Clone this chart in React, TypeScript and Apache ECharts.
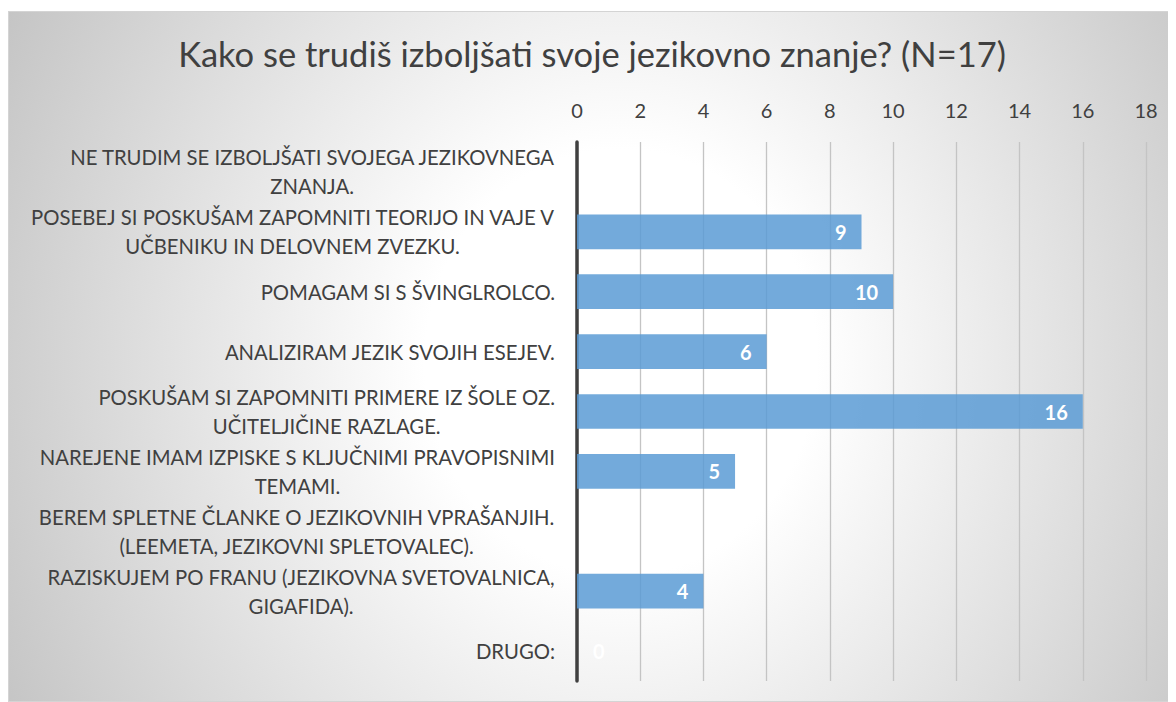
import React, { useEffect, useRef } from "react";
import * as echarts from "echarts";

const titleText = "Kako se trudiš izboljšati svoje jezikovno znanje? (N=17)";

const categories = [
  "NE TRUDIM SE IZBOLJŠATI SVOJEGA JEZIKOVNEGA\nZNANJA.",
  "POSEBEJ SI POSKUŠAM ZAPOMNITI TEORIJO IN VAJE V\nUČBENIKU IN DELOVNEM ZVEZKU.",
  "POMAGAM SI S ŠVINGLROLCO.",
  "ANALIZIRAM JEZIK SVOJIH ESEJEV.",
  "POSKUŠAM SI ZAPOMNITI PRIMERE IZ ŠOLE OZ.\nUČITELJIČINE RAZLAGE.",
  "NAREJENE IMAM IZPISKE S KLJUČNIMI PRAVOPISNIMI\nTEMAMI.",
  "BEREM SPLETNE ČLANKE O JEZIKOVNIH VPRAŠANJIH.\n(LEEMETA, JEZIKOVNI SPLETOVALEC).",
  "RAZISKUJEM PO FRANU (JEZIKOVNA SVETOVALNICA,\nGIGAFIDA).",
  "DRUGO:",
];

const counts = [0, 9, 10, 6, 16, 5, 0, 4, 0];

const axisMin = 0;
const axisMax = 18;
const axisStep = 2;

const FONT = "Lato, 'Open Sans', sans-serif";
const TEXT_COLOR = "#404040";

export default function App() {
  const ref = useRef<HTMLDivElement>(null);

  useEffect(() => {
    if (!ref.current) return;
    const chart = echarts.init(ref.current, undefined, { renderer: "svg" });

    // zero-length bars carry their label just outside the axis
    const barData = counts.map((v) =>
      v === 0
        ? { value: v, label: { position: "right", distance: 16 } }
        : { value: v }
    );

    chart.setOption({
      animation: false,
      backgroundColor: "transparent",
      textStyle: { fontFamily: FONT },
      title: {
        text: titleText,
        left: "center",
        top: 19,
        textStyle: {
          fontFamily: FONT,
          fontSize: 34.5,
          fontWeight: "normal",
          color: TEXT_COLOR,
        },
      },
      grid: { left: 568, right: 29, top: 130, bottom: 20 },
      xAxis: {
        type: "value",
        position: "top",
        min: axisMin,
        max: axisMax,
        interval: axisStep,
        axisLine: { show: false },
        axisTick: { show: false },
        axisLabel: {
          color: TEXT_COLOR,
          fontFamily: FONT,
          fontSize: 20,
          margin: 22,
        },
        splitLine: {
          show: true,
          lineStyle: { width: 1.3, color: "#c4c4c4" },
        },
      },
      yAxis: {
        type: "category",
        inverse: true,
        data: categories,
        axisTick: { show: false },
        axisLine: { show: true, lineStyle: { color: TEXT_COLOR, width: 3.5 } },
        splitLine: { show: false },
        axisLabel: {
          interval: 0,
          margin: 22,
          color: TEXT_COLOR,
          fontFamily: FONT,
          fontSize: 20.3,
          formatter: (value: string) =>
            value
              .split("\n")
              .map((line) => `{c|${line}}`)
              .join("\n"),
          rich: {
            c: {
              align: "center",
              color: TEXT_COLOR,
              fontFamily: FONT,
              fontSize: 20.3,
              lineHeight: 29,
            },
          },
        },
      },
      series: [
        {
          type: "bar",
          data: barData,
          barCategoryGap: "42%",
          itemStyle: {
            color: "rgba(91,155,213,0.85)",
          },
          label: {
            show: true,
            position: "insideRight",
            distance: 15,
            color: "#ffffff",
            fontFamily: FONT,
            fontWeight: "bold",
            fontSize: 20,
          },
        },
      ],
    });

    return () => chart.dispose();
  }, []);

  return (
    <div style={{ paddingTop: 3 }}>
      <div
        style={{
          width: 1168,
          height: 691,
          boxSizing: "border-box",
          border: "1px solid #d4d4d4",
          background:
            "radial-gradient(ellipse 700px 760px at 612px 350px, #ffffff 0%, #ffffff 28%, #c4c4c4 100%)",
        }}
      >
        <div ref={ref} style={{ width: 1166, height: 689 }} />
      </div>
    </div>
  );
}
